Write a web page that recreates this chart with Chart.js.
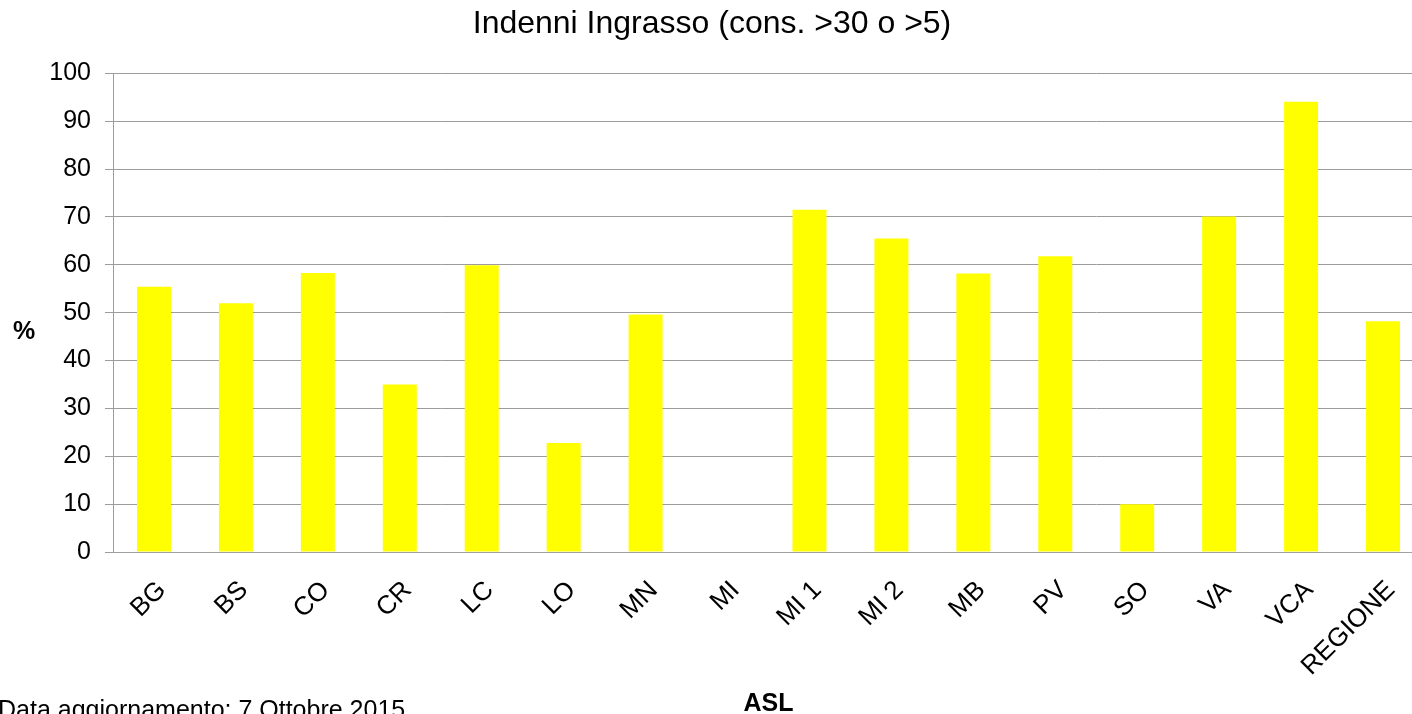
<!DOCTYPE html>
<html>
<head>
<meta charset="utf-8">
<script src="https://cdn.jsdelivr.net/npm/chart.js@4"></script>
<style>
  html, body { margin: 0; padding: 0; background: #fff; overflow: hidden; }
  #wrap { width: 1425px; height: 714px; position: relative; }
</style>
</head>
<body>
<div id="wrap"><canvas id="chart"></canvas></div>
<script>
const categories = ["BG", "BS", "CO", "CR", "LC", "LO", "MN", "MI", "MI 1", "MI 2", "MB", "PV", "SO", "VA", "VCA", "REGIONE"];
const values = [55.4, 52.0, 58.3, 35.0, 59.9, 22.8, 49.6, 0, 71.5, 65.5, 58.2, 61.8, 10.0, 70.1, 94.1, 48.2];
const yTicks = [0, 10, 20, 30, 40, 50, 60, 70, 80, 90, 100];

const chartTitle = "Indenni Ingrasso (cons. >30 o >5)";
const yTitle = "%";
const footnote = "Data aggiornamento: 7 Ottobre 2015";

const FONT = "'Liberation Sans', Arial, sans-serif";
Chart.defaults.font.family = FONT;
Chart.defaults.color = "#000";

// "%" orizzontale a sinistra e nota in basso (stessa riga del titolo asse X)
const extraText = {
  id: "extraText",
  afterDraw(chart) {
    const ctx = chart.ctx;
    ctx.save();
    ctx.fillStyle = "#000";
    ctx.font = "bold 25px " + FONT;
    ctx.textAlign = "center";
    ctx.textBaseline = "middle";
    ctx.fillText(yTitle, 24, chart.scales.y.getPixelForValue(46));
    ctx.font = "25px " + FONT;
    ctx.textAlign = "left";
    ctx.textBaseline = "alphabetic";
    ctx.fillText(footnote, -2, chart.height + 4);
    ctx.restore();
  }
};

new Chart(document.getElementById("chart"), {
  type: "bar",
  data: {
    labels: categories,
    datasets: [{
      data: values,
      backgroundColor: "#ffff00",
      borderWidth: 0,
      barPercentage: 0.415,
      categoryPercentage: 1
    }]
  },
  options: {
    responsive: true,
    maintainAspectRatio: false,
    animation: false,
    layout: { padding: { left: 0, right: 1, top: 0, bottom: 0 } },
    plugins: {
      legend: { display: false },
      tooltip: { enabled: false },
      title: {
        display: true,
        text: chartTitle,
        font: { size: 32, weight: "normal" },
        color: "#000",
        padding: { top: 5, bottom: 30 }
      }
    },
    scales: {
      x: {
        afterFit(scale) { scale.height = 162; },
        grid: { display: false },
        border: { display: true, color: "#a0a0a0", width: 1 },
        ticks: {
          font: { size: 26 },
          color: "#000",
          maxRotation: 45,
          minRotation: 45,
          autoSkip: false,
          padding: 15,
          labelOffset: 8
        },
        title: {
          display: true,
          text: "ASL",
          font: { size: 25, weight: "bold", lineHeight: 0.8 },
          color: "#000",
          padding: { top: 0, bottom: 0 }
        }
      },
      y: {
        min: 0,
        max: 100,
        afterFit(scale) { scale.width = 113; },
        afterBuildTicks(scale) {
          scale.ticks = yTicks.map(v => ({ value: v }));
        },
        grid: { color: "#9c9c9c", lineWidth: 1, tickLength: 8, drawTicks: true },
        border: { display: true, color: "#9c9c9c", width: 1 },
        ticks: {
          font: { size: 25 },
          color: "#000",
          padding: 14
        }
      }
    }
  },
  plugins: [extraText]
});
</script>
</body>
</html>
